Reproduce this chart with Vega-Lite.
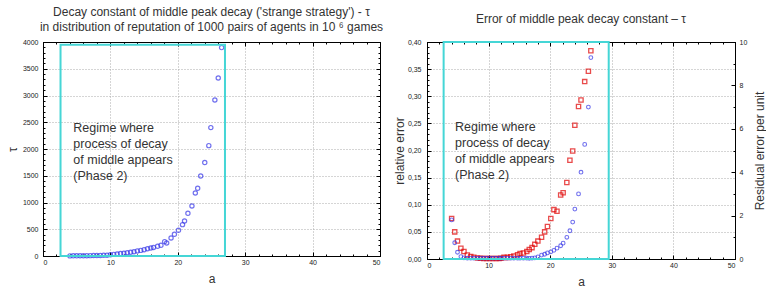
{
  "$schema": "https://vega.github.io/schema/vega-lite/v6.json",
  "padding": {"left": 5, "top": 5, "right": 0, "bottom": 0},
  "spacing": 6,
  "config": {
    "view": {"stroke": "black", "strokeWidth": 1},
    "font": "Liberation Sans",
    "title": {"font": "Liberation Sans", "fontSize": 12, "fontWeight": "normal", "color": "#333333"},
    "axis": {
      "domainColor": "#000000", "tickColor": "#000000",
      "labelFont": "Liberation Sans", "labelFontSize": 7, "labelColor": "#222222",
      "titleFont": "Liberation Sans", "titleFontWeight": "normal", "titleFontSize": 12, "titleColor": "#333333",
      "gridColor": "#aaaaaa", "gridDash": [1, 2], "labelOverlap": false
    }
  },
  "hconcat": [
    {
      "width": 337,
      "height": 214,
      "title": {"text": ["Decay constant of middle peak decay ('strange strategy') -  τ", "in distribution of reputation of 1000 pairs of agents in 10  ⁶ games"], "lineHeight": 15, "offset": 4},
      "layer": [
        {
          "data": {"values": [
            {"a": 4, "tau": 2}, {"a": 4.5, "tau": 3}, {"a": 5, "tau": 3}, {"a": 5.5, "tau": 4}, {"a": 6, "tau": 5},
            {"a": 6.5, "tau": 6}, {"a": 7, "tau": 7}, {"a": 7.5, "tau": 8}, {"a": 8, "tau": 9}, {"a": 8.5, "tau": 11},
            {"a": 9, "tau": 13}, {"a": 9.5, "tau": 15}, {"a": 10, "tau": 25}, {"a": 10.5, "tau": 30}, {"a": 11, "tau": 38},
            {"a": 11.5, "tau": 45}, {"a": 12, "tau": 52}, {"a": 12.5, "tau": 60}, {"a": 13, "tau": 70}, {"a": 13.5, "tau": 80},
            {"a": 14, "tau": 95}, {"a": 14.5, "tau": 105}, {"a": 15, "tau": 118}, {"a": 15.5, "tau": 135}, {"a": 16, "tau": 150},
            {"a": 16.4, "tau": 160}, {"a": 17, "tau": 181}, {"a": 17.5, "tau": 200}, {"a": 18.05, "tau": 269}, {"a": 18.35, "tau": 243},
            {"a": 19, "tau": 336}, {"a": 19.5, "tau": 405}, {"a": 20.1, "tau": 480}, {"a": 20.7, "tau": 586}, {"a": 21, "tau": 654},
            {"a": 21.5, "tau": 798}, {"a": 22.1, "tau": 935}, {"a": 22.6, "tau": 1178}, {"a": 22.95, "tau": 1265}, {"a": 23.4, "tau": 1496},
            {"a": 24, "tau": 1746}, {"a": 24.6, "tau": 2063}, {"a": 24.9, "tau": 2400}, {"a": 25.5, "tau": 2916}, {"a": 26, "tau": 3327},
            {"a": 26.5, "tau": 3895}
          ]},
          "mark": {"type": "point", "shape": "circle", "filled": false, "color": "#3535e8", "size": 18, "strokeWidth": 1.2},
          "encoding": {
            "x": {"field": "a", "type": "quantitative", "scale": {"domain": [0, 50], "nice": false, "zero": false},
              "axis": {"orient": "bottom", "title": "a", "values": [0,2,4,6,8,10,12,14,16,18,20,22,24,26,28,30,32,34,36,38,40,42,44,46,48,50],
                "labelExpr": "datum.value % 10 == 0 ? format(datum.value, 'd') : ''",
                "tickSize": {"condition": {"test": "datum.value % 10 == 0", "value": -4}, "value": -2},
                "labelPadding": 6, "titlePadding": 6,
                "grid": true, "gridOpacity": {"condition": {"test": "datum.value % 10 == 0 && datum.value > 0 && datum.value < 50", "value": 1}, "value": 0}}},
            "y": {"field": "tau", "type": "quantitative", "scale": {"domain": [0, 4000], "nice": false},
              "axis": {"orient": "left", "title": "τ", "values": [0,100,200,300,400,500,600,700,800,900,1000,1100,1200,1300,1400,1500,1600,1700,1800,1900,2000,2100,2200,2300,2400,2500,2600,2700,2800,2900,3000,3100,3200,3300,3400,3500,3600,3700,3800,3900,4000],
                "labelExpr": "datum.value % 500 == 0 ? format(datum.value, 'd') : ''",
                "tickSize": {"condition": {"test": "datum.value % 500 == 0", "value": -4}, "value": -2},
                "labelPadding": 9, "titlePadding": 4, "minExtent": 20, "maxExtent": 20,
                "grid": true, "gridOpacity": {"condition": {"test": "datum.value % 500 == 0 && datum.value > 0 && datum.value < 4000", "value": 1}, "value": 0}}}
          }
        },
        {
          "data": {"values": [{"x0": 2.6, "x1": 27.0, "y0": 0, "y1": 3950}]},
          "mark": {"type": "rect", "filled": false, "stroke": "#45d6d6", "strokeWidth": 2},
          "encoding": {
            "x": {"field": "x0", "type": "quantitative",
              "axis": {"orient": "top", "title": null, "labels": false, "grid": false, "values": [0,2,4,6,8,10,12,14,16,18,20,22,24,26,28,30,32,34,36,38,40,42,44,46,48,50],
                "tickSize": {"condition": {"test": "datum.value % 10 == 0", "value": -4}, "value": -2}}},
            "x2": {"field": "x1"},
            "y": {"field": "y0", "type": "quantitative",
              "axis": {"orient": "right", "title": null, "labels": false, "grid": false, "values": [0,100,200,300,400,500,600,700,800,900,1000,1100,1200,1300,1400,1500,1600,1700,1800,1900,2000,2100,2200,2300,2400,2500,2600,2700,2800,2900,3000,3100,3200,3300,3400,3500,3600,3700,3800,3900,4000],
                "tickSize": {"condition": {"test": "datum.value % 500 == 0", "value": -4}, "value": -2}}},
            "y2": {"field": "y1"}
          }
        },
        {
          "data": {"values": [{"a": 4.5, "v": 2500, "label": "Regime where\nprocess of decay\n\u00a0of middle appears\n(Phase 2)"}]},
          "mark": {"type": "text", "align": "left", "baseline": "top", "lineBreak": "\n", "fontSize": 12.5, "lineHeight": 16, "color": "#333333", "font": "Liberation Sans"},
          "encoding": {
            "x": {"field": "a", "type": "quantitative", "axis": null},
            "y": {"field": "v", "type": "quantitative", "axis": null},
            "text": {"field": "label"}
          }
        }
      ],
      "resolve": {"axis": {"x": "independent", "y": "independent"}}
    },
    {
      "width": 308,
      "height": 217,
      "title": {"text": "Error of middle peak decay constant  – τ", "offset": 12},
      "layer": [
        {
          "data": {"values": [
            {"a": 4.0, "rel": 0.0746}, {"a": 4.5, "rel": 0.050}, {"a": 4.95, "rel": 0.033}, {"a": 5.5, "rel": 0.020}, {"a": 6.0, "rel": 0.014},
            {"a": 6.55, "rel": 0.0074}, {"a": 7.1, "rel": 0.0045}, {"a": 7.6, "rel": 0.0034}, {"a": 8.2, "rel": 0.002}, {"a": 8.7, "rel": 0.0012},
            {"a": 9.2, "rel": 0.0010}, {"a": 9.7, "rel": 0.0008}, {"a": 10.2, "rel": 0.0008}, {"a": 10.7, "rel": 0.0008}, {"a": 11.2, "rel": 0.0009},
            {"a": 11.7, "rel": 0.0010}, {"a": 12.0, "rel": 0.0015}, {"a": 12.5, "rel": 0.003}, {"a": 13.05, "rel": 0.003}, {"a": 13.6, "rel": 0.004},
            {"a": 14.1, "rel": 0.0056}, {"a": 14.7, "rel": 0.008}, {"a": 15.1, "rel": 0.010}, {"a": 15.65, "rel": 0.011}, {"a": 16.2, "rel": 0.014},
            {"a": 16.6, "rel": 0.0176}, {"a": 17.05, "rel": 0.021}, {"a": 17.5, "rel": 0.027}, {"a": 18.0, "rel": 0.033}, {"a": 18.6, "rel": 0.040},
            {"a": 19.1, "rel": 0.050}, {"a": 19.55, "rel": 0.060}, {"a": 20.1, "rel": 0.0746}, {"a": 20.6, "rel": 0.091}, {"a": 21.1, "rel": 0.088},
            {"a": 21.7, "rel": 0.118}, {"a": 22.1, "rel": 0.122}, {"a": 22.7, "rel": 0.141}, {"a": 23.2, "rel": 0.182}, {"a": 23.65, "rel": 0.199},
            {"a": 24.0, "rel": 0.2466}, {"a": 24.6, "rel": 0.281}, {"a": 25.0, "rel": 0.293}, {"a": 25.6, "rel": 0.327}, {"a": 26.2, "rel": 0.346},
            {"a": 26.6, "rel": 0.384}
          ]},
          "mark": {"type": "point", "shape": "square", "filled": false, "color": "#e00000", "size": 18, "strokeWidth": 1.3},
          "encoding": {
            "x": {"field": "a", "type": "quantitative", "scale": {"domain": [0, 50], "nice": false, "zero": false},
              "axis": {"orient": "bottom", "title": "a", "values": [0,2,4,6,8,10,12,14,16,18,20,22,24,26,28,30,32,34,36,38,40,42,44,46,48,50],
                "labelExpr": "datum.value % 10 == 0 ? format(datum.value, 'd') : ''",
                "tickSize": {"condition": {"test": "datum.value % 10 == 0", "value": -4}, "value": -2},
                "labelPadding": 6, "titlePadding": 6,
                "grid": true, "gridOpacity": {"condition": {"test": "datum.value % 10 == 0 && datum.value > 0 && datum.value < 50", "value": 1}, "value": 0}}},
            "y": {"field": "rel", "type": "quantitative", "scale": {"domain": [0, 0.4], "nice": false},
              "axis": {"orient": "left", "title": "relative error", "values": [0,0.01,0.02,0.03,0.04,0.05,0.06,0.07,0.08,0.09,0.1,0.11,0.12,0.13,0.14,0.15,0.16,0.17,0.18,0.19,0.2,0.21,0.22,0.23,0.24,0.25,0.26,0.27,0.28,0.29,0.3,0.31,0.32,0.33,0.34,0.35,0.36,0.37,0.38,0.39,0.4],
                "labelExpr": "round(datum.value * 100) % 5 == 0 ? replace(format(datum.value, '.2f'), '.', ',') : ''",
                "tickSize": {"condition": {"test": "round(datum.value * 100) % 5 == 0", "value": -4}, "value": -2},
                "labelPadding": 10, "titlePadding": 3, "minExtent": 18, "maxExtent": 18,
                "grid": true, "gridOpacity": {"condition": {"test": "round(datum.value * 100) % 5 == 0 && datum.value > 0.001 && datum.value < 0.399", "value": 1}, "value": 0}}}
          }
        },
        {
          "data": {"values": [
            {"a": 4.0, "res": 1.8}, {"a": 4.5, "res": 0.75}, {"a": 4.95, "res": 0.31}, {"a": 5.5, "res": 0.11}, {"a": 6.0, "res": 0.05},
            {"a": 6.55, "res": 0.04}, {"a": 7.1, "res": 0.04}, {"a": 7.6, "res": 0.04}, {"a": 8.2, "res": 0.04}, {"a": 8.7, "res": 0.04},
            {"a": 9.2, "res": 0.04}, {"a": 9.7, "res": 0.04}, {"a": 10.2, "res": 0.04}, {"a": 10.7, "res": 0.04}, {"a": 11.2, "res": 0.04},
            {"a": 11.7, "res": 0.04}, {"a": 12.0, "res": 0.04}, {"a": 12.5, "res": 0.04}, {"a": 13.05, "res": 0.04}, {"a": 13.6, "res": 0.04},
            {"a": 14.1, "res": 0.04}, {"a": 14.7, "res": 0.04}, {"a": 15.1, "res": 0.04}, {"a": 15.65, "res": 0.04}, {"a": 16.2, "res": 0.04},
            {"a": 16.6, "res": 0.03}, {"a": 17.05, "res": 0.04}, {"a": 17.5, "res": 0.05}, {"a": 18.0, "res": 0.1}, {"a": 18.6, "res": 0.18},
            {"a": 19.1, "res": 0.22}, {"a": 19.55, "res": 0.28}, {"a": 20.1, "res": 0.33}, {"a": 20.6, "res": 0.4}, {"a": 21.1, "res": 0.5},
            {"a": 21.7, "res": 0.61}, {"a": 22.1, "res": 0.73}, {"a": 22.7, "res": 1.0}, {"a": 23.2, "res": 1.3}, {"a": 23.65, "res": 1.7},
            {"a": 24.0, "res": 2.3}, {"a": 24.6, "res": 3.0}, {"a": 25.0, "res": 4.0}, {"a": 25.6, "res": 5.28}, {"a": 26.2, "res": 7.0},
            {"a": 26.6, "res": 9.28}
          ]},
          "mark": {"type": "point", "shape": "circle", "filled": false, "color": "#3535e8", "size": 14, "strokeWidth": 1.1},
          "encoding": {
            "x": {"field": "a", "type": "quantitative",
              "axis": {"orient": "top", "title": null, "labels": false, "grid": false, "values": [0,2,4,6,8,10,12,14,16,18,20,22,24,26,28,30,32,34,36,38,40,42,44,46,48,50],
                "tickSize": {"condition": {"test": "datum.value % 10 == 0", "value": -4}, "value": -2}}},
            "y": {"field": "res", "type": "quantitative", "scale": {"domain": [0, 10], "nice": false},
              "axis": {"orient": "right", "title": "Residual error per unit", "titleAngle": 270, "values": [0,1,2,3,4,5,6,7,8,9,10],
                "labelExpr": "datum.value % 2 == 0 ? format(datum.value, 'd') : ''",
                "tickSize": {"condition": {"test": "datum.value % 2 == 0", "value": -4}, "value": -2},
                "labelPadding": 8, "titlePadding": 20, "grid": false}}
          }
        },
        {
          "data": {"values": [{"x0": 2.7, "x1": 29.5, "y0": 0, "y1": 0.4}]},
          "mark": {"type": "rect", "filled": false, "stroke": "#45d6d6", "strokeWidth": 2},
          "encoding": {
            "x": {"field": "x0", "type": "quantitative", "axis": null},
            "x2": {"field": "x1"},
            "y": {"field": "y0", "type": "quantitative", "scale": {"domain": [0, 0.4], "nice": false}, "axis": null},
            "y2": {"field": "y1"}
          }
        },
        {
          "data": {"values": [{"a": 4.55, "v": 0.255, "label": "Regime where\nprocess of decay\n\u00a0of middle appears\n(Phase 2)"}]},
          "mark": {"type": "text", "align": "left", "baseline": "top", "lineBreak": "\n", "fontSize": 12.5, "lineHeight": 16, "color": "#333333", "font": "Liberation Sans"},
          "encoding": {
            "x": {"field": "a", "type": "quantitative", "axis": null},
            "y": {"field": "v", "type": "quantitative", "scale": {"domain": [0, 0.4], "nice": false}, "axis": null},
            "text": {"field": "label"}
          }
        }
      ],
      "resolve": {"scale": {"y": "independent"}, "axis": {"x": "independent", "y": "independent"}}
    }
  ]
}
